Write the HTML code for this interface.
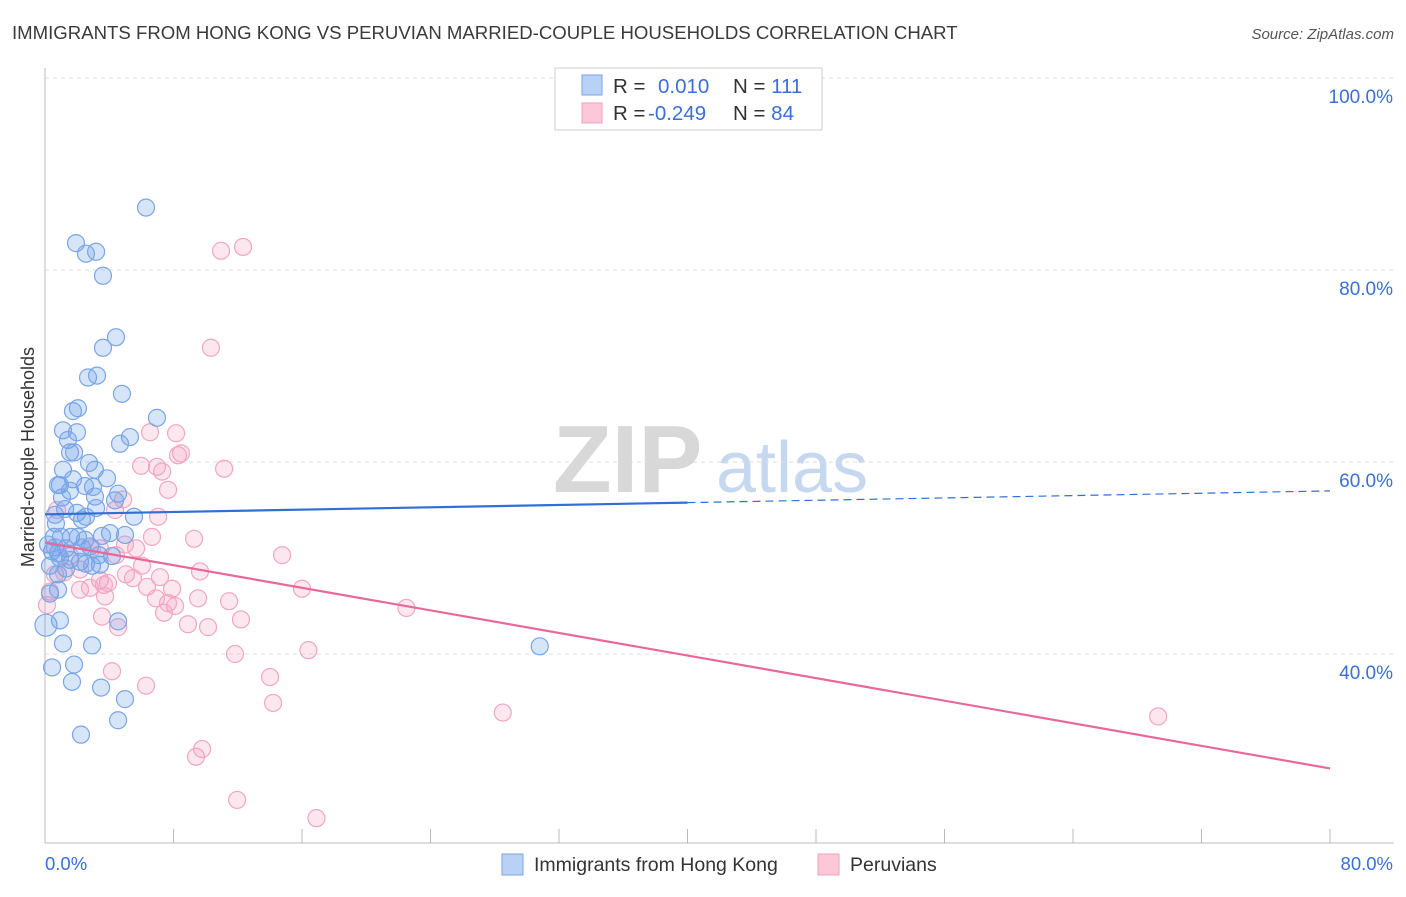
<!DOCTYPE html>
<html><head><meta charset="utf-8">
<style>
body{margin:0;background:#fff;font-family:"Liberation Sans",sans-serif;}
svg text{font-family:"Liberation Sans",sans-serif;}
</style></head>
<body>
<svg id="chart" width="1406" height="892">
<text x="12" y="39" font-size="18.6" fill="#3a3a3a">IMMIGRANTS FROM HONG KONG VS PERUVIAN MARRIED-COUPLE HOUSEHOLDS CORRELATION CHART</text>
<text x="1394" y="39" font-size="15" fill="#555" font-style="italic" text-anchor="end">Source: ZipAtlas.com</text>
<g>
<text x="553" y="492" font-size="96" fill="#d8d8d8" font-family="Liberation Serif" font-weight="bold">ZIP</text>
<text x="716" y="492" font-size="72" fill="#c6d8ef">atlas</text>
</g>
<g id="grid"></g><g id="axes"></g><g id="pts"></g><g id="lines"></g>
<text transform="translate(34,457) rotate(-90)" font-size="18" fill="#333" text-anchor="middle">Married-couple Households</text>
<g>
<rect x="555" y="68" width="267" height="62" fill="#fff" stroke="#ccc"/>
<rect x="582" y="75" width="20" height="20" fill="#b9d1f5" stroke="#7aa3e5"/>
<rect x="582" y="103" width="20" height="20" fill="#fcc8d8" stroke="#f0a0bb"/>
<text x="613" y="93" font-size="20.5" fill="#333">R = <tspan fill="#3a6fd8" x="658">0.010</tspan><tspan x="733" fill="#333">N = </tspan><tspan fill="#3a6fd8">111</tspan></text>
<text x="613" y="120" font-size="20.5" fill="#333">R = <tspan fill="#3a6fd8" x="648">-0.249</tspan><tspan x="733" fill="#333">N = </tspan><tspan fill="#3a6fd8">84</tspan></text>
</g>
<g>
<rect x="502" y="854" width="21" height="21" fill="#b9d1f5" stroke="#7aa3e5"/>
<text x="534" y="871" font-size="19.5" fill="#333">Immigrants from Hong Kong</text>
<rect x="818" y="854" width="21" height="21" fill="#fcc8d8" stroke="#f0a0bb"/>
<text x="850" y="871" font-size="19.5" fill="#333">Peruvians</text>
</g>
</svg>
<script>
const xTicks=[0,8,16,24,32,40,48,56,64,72,80];
const yTicks=[40,60,80,100];
const yTickLabels=["40.0%","60.0%","80.0%","100.0%"];
const blueX=[6.29,1.93,2.55,3.18,3.61,4.42,3.61,2.68,3.24,4.79,6.97,2.05,1.74,5.29,4.67,1.12,1.99,1.43,1.56,1.81,2.74,3.11,3.86,1.12,0.81,0.93,1.74,2.49,2.99,1.56,1.06,3.11,4.55,4.36,3.18,1.25,0.62,1.99,2.55,2.30,5.54,0.68,4.05,3.55,4.98,0.56,1.00,1.62,2.05,2.49,0.19,0.62,1.31,2.30,2.80,0.44,0.81,3.36,4.17,0.93,1.56,2.18,2.55,0.31,2.93,3.42,1.31,0.81,0.31,0.81,0.06,0.93,4.55,1.12,2.93,30.8,0.44,1.81,1.68,3.49,4.98,4.55,2.24];
const blueY=[86.5,82.8,81.7,81.9,79.4,73.0,71.9,68.8,69.0,67.1,64.6,65.6,65.3,62.6,61.9,63.3,63.1,62.3,61.0,61.0,59.9,59.2,58.3,59.2,57.6,57.6,58.2,57.5,57.4,57.0,56.3,56.4,56.7,56.0,55.2,55.1,54.5,54.7,54.3,54.0,54.3,53.6,52.6,52.3,52.4,52.2,52.2,52.2,52.2,51.9,51.4,51.1,51.0,51.1,51.2,50.7,50.5,50.3,50.2,50.0,49.8,49.6,49.4,49.2,49.2,49.3,48.9,48.3,46.3,46.7,43.0,43.5,43.4,41.1,40.9,40.8,38.6,38.9,37.1,36.5,35.3,33.1,31.6];
const pinkX=[12.33,10.96,10.33,6.54,8.16,8.47,8.28,5.98,6.97,7.29,11.15,7.66,4.86,4.36,7.04,0.75,6.66,9.28,4.98,5.67,2.93,3.42,14.76,4.42,1.56,6.04,9.65,0.62,1.18,2.18,5.04,7.16,5.48,3.42,3.92,3.67,6.35,7.91,16.0,2.18,2.80,0.31,3.74,9.53,6.91,11.46,8.10,7.66,0.12,22.5,7.41,3.55,12.2,8.90,10.15,4.55,16.4,11.83,4.17,14.01,6.29,14.2,28.5,69.3,9.78,9.40,11.96,16.9];
const pinkY=[82.4,82.0,71.9,63.1,63.0,60.9,60.7,59.6,59.5,59.0,59.3,57.1,56.1,55.0,54.3,55.0,52.2,52.0,51.4,51.0,51.0,51.0,50.3,50.3,50.2,49.2,48.6,48.3,48.5,48.8,48.3,48.0,47.9,47.7,47.4,47.2,47.0,46.8,46.8,46.7,46.9,46.5,46.0,45.8,45.8,45.5,45.0,45.3,45.1,44.8,44.3,43.9,43.6,43.1,42.8,42.8,40.4,40.0,38.2,37.6,36.7,34.9,33.9,33.5,30.1,29.3,24.8,22.9];
const blueFit=[54.55,0.0305];
const pinkFit=[51.6,-0.294];
const NS="http://www.w3.org/2000/svg";
const X0=45,X1=1330,Y0=78,YS=9.6;
function sx(v){return X0+(v-0)/80*(X1-X0);}
function sy(v){return Y0+(100-v)*YS;}
function mk(t,a,p){const e=document.createElementNS(NS,t);for(const k in a)e.setAttribute(k,a[k]);p.appendChild(e);return e;}
const grid=document.getElementById('grid'),axes=document.getElementById('axes'),pts=document.getElementById('pts'),lines=document.getElementById('lines');
yTicks.forEach((t,i)=>{
 const l=mk('line',{x1:45,x2:1394,y1:sy(t),y2:sy(t),stroke:'#ddd','stroke-dasharray':'4,4'},grid);
 
 
 const tx=mk('text',{x:1393,y:sy(t)+25,'font-size':19,fill:'#3a6fd8','text-anchor':'end'},axes);
 tx.textContent=yTickLabels[i];
 
 
});
const ax=mk('line',{x1:45,x2:1394,y1:843,y2:843,stroke:'#bbb'},axes);


const ay=mk('line',{x1:45,x2:45,y1:68,y2:843,stroke:'#bbb'},axes);


xTicks.forEach(t=>{
 const l=mk('line',{x1:sx(t),x2:sx(t),y1:829,y2:843,stroke:'#bbb'},axes);
 
 
});
let t1=mk('text',{x:45,y:870,'font-size':18.5,fill:'#3a6fd8'},axes);t1.textContent='0.0%';


let t2=mk('text',{x:1393,y:870,'font-size':18.5,fill:'#3a6fd8','text-anchor':'end'},axes);t2.textContent='80.0%';


pinkX.forEach((v,i)=>{
 const c=mk('circle',{cx:sx(v),cy:sy(pinkY[i]),r:8.5,fill:'rgba(244,160,190,0.25)',stroke:'#f2a6c0','stroke-width':1.2},pts);
 
 
});
blueX.forEach((v,i)=>{
 const c=mk('circle',{cx:sx(v),cy:sy(blueY[i]),r:v<0.1?11:8.5,fill:'rgba(110,160,235,0.28)',stroke:'#7aa5e6','stroke-width':1.2},pts);
 
 
});
const f=(fit,x)=>fit[0]+fit[1]*x;
let b1=mk('line',{x1:sx(0),y1:sy(f(blueFit,0)),x2:sx(40),y2:sy(f(blueFit,40)),stroke:'#2f6fd6','stroke-width':2.2},lines);


let b2=mk('line',{x1:sx(40),y1:sy(f(blueFit,40)),x2:sx(80),y2:sy(f(blueFit,80)),stroke:'#2f6fd6','stroke-width':1.2,'stroke-dasharray':'8,5'},lines);


let p1=mk('line',{x1:sx(0),y1:sy(f(pinkFit,0)),x2:sx(80),y2:sy(f(pinkFit,80)),stroke:'#e8689a','stroke-width':2.2},lines);


</script>
</body></html>
